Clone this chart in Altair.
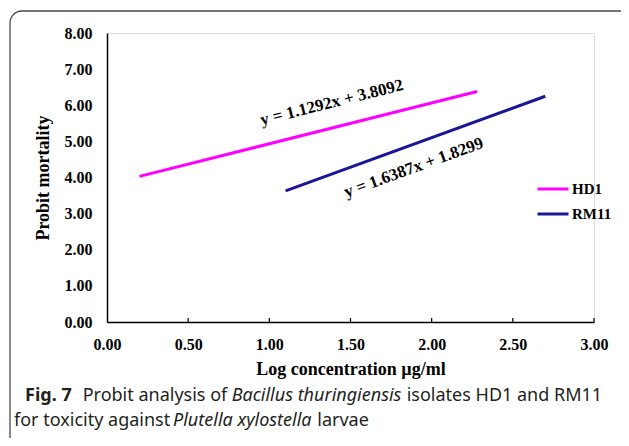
import altair as alt
import pandas as pd

# ---- data ----
series = ["HD1", "HD1", "RM11", "RM11"]
log_conc = [0.20, 2.28, 1.10, 2.70]
probit = [4.03, 6.38, 3.63, 6.25]

eq_text = ["y = 1.1292x + 3.8092", "y = 1.6387x + 1.8299"]
eq_x = [1.385, 1.89]
eq_y = [6.07, 4.27]
eq_angle = [346, 340]

x_ticks = [0.0, 0.5, 1.0, 1.5, 2.0, 2.5, 3.0]
y_ticks = [0.0, 1.0, 2.0, 3.0, 4.0, 5.0, 6.0, 7.0, 8.0]

caption_line1 = [("Fig. 7", "bold"), ("Probit analysis of", "normal"),
                 ("Bacillus thuringiensis", "italic"), ("isolates HD1 and RM11", "normal")]
caption_line2 = [("for toxicity against", "normal"), ("Plutella xylostella", "italic"),
                 ("larvae", "normal")]

# ---- layout ----
W, H = 487, 289
PAD_L, PAD_T = 99, 25
SERIF = "Liberation Serif"
SANS = "Noto Sans"
CAP_SIZE = 18

# approximate advance widths (per 1000 em) for caption placement
_w = {" ": 260, "a": 556, "b": 613, "c": 476, "d": 613, "e": 561, "f": 336, "g": 546,
      "h": 614, "i": 253, "j": 253, "k": 529, "l": 253, "m": 930, "n": 614, "o": 602,
      "p": 613, "r": 408, "s": 477, "t": 353, "u": 614, "v": 500, "x": 523, "y": 500,
      "z": 469, "A": 633, "B": 648, "D": 729, "F": 556, "H": 738, "M": 907, "P": 603,
      "R": 624, "1": 572, "7": 572, ".": 268}
_factor = {"bold": 1.0, "normal": 1.0, "italic": 0.955}
_gap = {"bold": 0.75, "normal": 0.3, "italic": 0.34}


def tw(s, style):
    return sum(_w.get(ch, 560) for ch in s) * _factor[style] * CAP_SIZE / 1000.0


df = pd.DataFrame({"series": series, "x": log_conc, "y": probit})
eq_df = pd.DataFrame({"t": eq_text, "x": eq_x, "y": eq_y})
tick_df = pd.DataFrame({"x": x_ticks[1:]})

xscale = alt.Scale(domain=[0, 3], nice=False, zero=False)
yscale = alt.Scale(domain=[0, 8], nice=False, zero=False)

x_axis = alt.Axis(values=x_ticks, format=".2f", ticks=False, grid=False,
                  labelFlush=False, labelOverlap=False,
                  domainColor="black", domainWidth=1.5,
                  labelFont=SERIF, labelFontWeight="bold", labelFontSize=16,
                  labelColor="black", labelPadding=14,
                  title="Log concentration µg/ml", titleFont=SERIF,
                  titleFontWeight="bold", titleFontSize=18, titleColor="black",
                  titlePadding=8)
y_axis = alt.Axis(values=y_ticks, format=".2f", ticks=False, grid=False,
                  labelFlush=False, labelOverlap=False,
                  domainColor="black", domainWidth=1.5,
                  labelFont=SERIF, labelFontWeight="bold", labelFontSize=16,
                  labelColor="black", labelPadding=15,
                  title="Probit mortality", titleFont=SERIF,
                  titleFontWeight="bold", titleFontSize=18, titleColor="black",
                  titlePadding=12)

frame = alt.Chart(pd.DataFrame({"k": [0]})).mark_rect(
    fill=None, fillOpacity=0, stroke="#4a4a4a", strokeWidth=1.3, cornerRadius=12
).encode(x=alt.value(-97), x2=alt.value(532), y=alt.value(-22), y2=alt.value(419))

lines = alt.Chart(df).mark_line(strokeWidth=3).encode(
    x=alt.X("x:Q", scale=xscale, axis=x_axis),
    y=alt.Y("y:Q", scale=yscale, axis=y_axis),
    color=alt.Color("series:N",
                    scale=alt.Scale(domain=["HD1", "RM11"], range=["#FF00FF", "#1C1696"]),
                    legend=alt.Legend(title=None, orient="none", legendX=429, legendY=139,
                                      symbolType="stroke", symbolSize=961,
                                      symbolStrokeWidth=3, rowPadding=0, padding=0,
                                      labelFont=SERIF, labelFontWeight="bold",
                                      labelFontSize=15, labelColor="black", labelOffset=2)),
    detail="series:N",
)

xticks = alt.Chart(tick_df).mark_rule(color="black", strokeWidth=1.2).encode(
    x=alt.X("x:Q", scale=xscale, axis=x_axis), y=alt.value(H), y2=alt.value(H - 4)
)

eqs = [
    alt.Chart(eq_df.iloc[[i]]).mark_text(
        font=SERIF, fontWeight="bold", fontSize=17, color="black", angle=eq_angle[i],
        align="center", baseline="middle"
    ).encode(x=alt.X("x:Q", scale=xscale, axis=x_axis),
             y=alt.Y("y:Q", scale=yscale, axis=y_axis), text="t:N")
    for i in range(len(eq_text))
]

cap_marks = []
for line, (x0, base) in zip([caption_line1, caption_line2],
                            [(25 - 8 - PAD_L, 401 - 8 - PAD_T),
                             (14 - 8 - PAD_L, 426 - 8 - PAD_T)]):
    cx = x0
    for txt, style in line:
        cap_marks.append(
            alt.Chart(pd.DataFrame({"t": [txt]})).mark_text(
                font=SANS, fontSize=CAP_SIZE, color="#231f20", align="left",
                baseline="alphabetic",
                fontWeight="bold" if style == "bold" else "normal",
                fontStyle="italic" if style == "italic" else "normal",
            ).encode(x=alt.value(cx), y=alt.value(base), text="t:N")
        )
        cx += tw(txt, style) + CAP_SIZE * _gap[style]

chart = alt.layer(frame, lines, xticks, *eqs, *cap_marks).properties(
    width=W, height=H,
    autosize=alt.AutoSizeParams(type="none"),
    padding={"left": PAD_L, "top": PAD_T, "right": 613 - PAD_L - W, "bottom": 430 - PAD_T - H},
).configure_view(stroke=None).configure(background="white")

chart.save("out.html", embed_options={"renderer": "svg", "actions": False})
